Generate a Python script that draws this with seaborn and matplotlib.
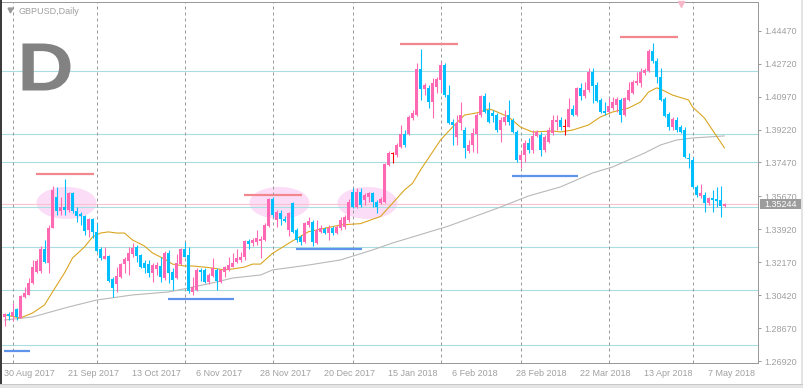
import numpy as np
import matplotlib
matplotlib.use("Agg")
import matplotlib.pyplot as plt
import seaborn as sns
from matplotlib.patches import Ellipse, Rectangle, PathPatch
from matplotlib.lines import Line2D
from matplotlib.textpath import TextPath
from matplotlib.font_manager import FontProperties
from matplotlib.transforms import Affine2D, blended_transform_factory

# ---------------- data ----------------
opens = [
    1.2926, 1.2942, 1.2931, 1.2968, 1.2921, 1.3032, 1.3043, 1.3106, 1.3165, 1.3170,
    1.3287, 1.3213, 1.3399, 1.3563, 1.3489, 1.3510, 1.3494, 1.3585, 1.3489, 1.3473,
    1.3462, 1.3388, 1.3447, 1.3378, 1.3287, 1.3234, 1.3250, 1.3128, 1.3101, 1.3138,
    1.3207, 1.3223, 1.3261, 1.3298, 1.3255, 1.3213, 1.3207, 1.3160, 1.3181, 1.3197,
    1.3133, 1.3266, 1.3165, 1.3133, 1.3207, 1.3287, 1.3255, 1.3059, 1.3069, 1.3176,
    1.3176, 1.3112, 1.3144, 1.3176, 1.3112, 1.3165, 1.3176, 1.3191, 1.3218, 1.3229,
    1.3245, 1.3330, 1.3319, 1.3324, 1.3330, 1.3335, 1.3409, 1.3553, 1.3441, 1.3478,
    1.3447, 1.3388, 1.3532, 1.3388, 1.3351, 1.3324, 1.3415, 1.3431, 1.3319, 1.3378,
    1.3394, 1.3372, 1.3399, 1.3372, 1.3399, 1.3404, 1.3441, 1.3590, 1.3510, 1.3590,
    1.3547, 1.3563, 1.3585, 1.3537, 1.3532, 1.3537, 1.3733, 1.3792, 1.3787, 1.3829,
    1.3898, 1.3898, 1.3983, 1.3999, 1.4244, 1.4137, 1.4143, 1.4068, 1.4148, 1.4185,
    1.4265, 1.4105, 1.3962, 1.3882, 1.3957, 1.3919, 1.3808, 1.3840, 1.3898, 1.3999,
    1.4100, 1.4026, 1.4010, 1.3999, 1.3919, 1.3962, 1.3999, 1.3973, 1.3909, 1.3760,
    1.3787, 1.3850, 1.3813, 1.3888, 1.3893, 1.3813, 1.3856, 1.3904, 1.3962, 1.3973,
    1.3935, 1.3935, 1.4031, 1.3999, 1.4143, 1.4100, 1.4132, 1.4228, 1.4158, 1.4079,
    1.4020, 1.4015, 1.4036, 1.4052, 1.4079, 1.3999, 1.4079, 1.4116, 1.4169, 1.4169,
    1.4222, 1.4233, 1.4339, 1.4286, 1.4201, 1.4084, 1.4004, 1.3935, 1.3973, 1.3935,
    1.3919, 1.3771, 1.3760, 1.3617, 1.3569, 1.3574, 1.3532, 1.3558, 1.3553, 1.3547, 1.3516]
highs = [
    1.2947, 1.2952, 1.3000, 1.2974, 1.3043, 1.3085, 1.3133, 1.3229, 1.3234, 1.3303,
    1.3335, 1.3415, 1.3622, 1.3617, 1.3563, 1.3659, 1.3590, 1.3590, 1.3510, 1.3484,
    1.3468, 1.3452, 1.3452, 1.3425, 1.3298, 1.3298, 1.3255, 1.3138, 1.3191, 1.3213,
    1.3245, 1.3298, 1.3319, 1.3309, 1.3261, 1.3229, 1.3229, 1.3213, 1.3218, 1.3245,
    1.3277, 1.3282, 1.3186, 1.3261, 1.3293, 1.3324, 1.3298, 1.3138, 1.3186, 1.3186,
    1.3186, 1.3160, 1.3239, 1.3186, 1.3181, 1.3197, 1.3245, 1.3266, 1.3287, 1.3271,
    1.3335, 1.3340, 1.3346, 1.3388, 1.3356, 1.3425, 1.3558, 1.3563, 1.3494, 1.3494,
    1.3462, 1.3484, 1.3537, 1.3399, 1.3362, 1.3431, 1.3457, 1.3441, 1.3441, 1.3415,
    1.3404, 1.3415, 1.3409, 1.3415, 1.3457, 1.3468, 1.3553, 1.3611, 1.3611, 1.3611,
    1.3585, 1.3590, 1.3590, 1.3547, 1.3563, 1.3744, 1.3808, 1.3802, 1.3850, 1.3946,
    1.3919, 1.3999, 1.4026, 1.4275, 1.4350, 1.4169, 1.4158, 1.4196, 1.4201, 1.4281,
    1.4275, 1.4158, 1.3978, 1.3999, 1.4068, 1.3935, 1.3866, 1.3930, 1.4010, 1.4105,
    1.4116, 1.4068, 1.4026, 1.4010, 1.3989, 1.4026, 1.4079, 1.3983, 1.3919, 1.3802,
    1.3866, 1.3877, 1.3919, 1.3919, 1.3909, 1.3893, 1.3935, 1.3999, 1.3999, 1.3989,
    1.3978, 1.4089, 1.4052, 1.4148, 1.4169, 1.4174, 1.4249, 1.4249, 1.4174, 1.4089,
    1.4068, 1.4089, 1.4095, 1.4095, 1.4089, 1.4095, 1.4174, 1.4185, 1.4228, 1.4249,
    1.4249, 1.4350, 1.4382, 1.4302, 1.4249, 1.4095, 1.4015, 1.3989, 1.3989, 1.3946,
    1.3935, 1.3797, 1.3776, 1.3627, 1.3633, 1.3590, 1.3563, 1.3601, 1.3617, 1.3622, 1.3532]
lows = [
    1.2878, 1.2910, 1.2905, 1.2910, 1.2921, 1.3027, 1.3043, 1.3101, 1.3160, 1.3160,
    1.3213, 1.3160, 1.3399, 1.3468, 1.3468, 1.3468, 1.3484, 1.3478, 1.3431, 1.3415,
    1.3362, 1.3351, 1.3346, 1.3271, 1.3229, 1.3234, 1.3112, 1.3032, 1.3059, 1.3133,
    1.3160, 1.3149, 1.3245, 1.3218, 1.3186, 1.3160, 1.3138, 1.3112, 1.3149, 1.3112,
    1.3122, 1.3106, 1.3069, 1.3128, 1.3202, 1.3245, 1.3053, 1.3043, 1.3064, 1.3117,
    1.3106, 1.3101, 1.3138, 1.3069, 1.3106, 1.3138, 1.3170, 1.3191, 1.3213, 1.3218,
    1.3229, 1.3287, 1.3303, 1.3309, 1.3239, 1.3330, 1.3404, 1.3457, 1.3404, 1.3415,
    1.3431, 1.3356, 1.3372, 1.3324, 1.3309, 1.3319, 1.3404, 1.3303, 1.3314, 1.3372,
    1.3367, 1.3335, 1.3362, 1.3367, 1.3388, 1.3394, 1.3431, 1.3505, 1.3505, 1.3510,
    1.3521, 1.3537, 1.3510, 1.3478, 1.3526, 1.3532, 1.3728, 1.3744, 1.3776, 1.3824,
    1.3829, 1.3893, 1.3973, 1.3994, 1.4079, 1.4105, 1.4036, 1.3983, 1.4116, 1.4121,
    1.4095, 1.3951, 1.3840, 1.3840, 1.3919, 1.3771, 1.3797, 1.3802, 1.3797, 1.3989,
    1.4010, 1.3957, 1.3962, 1.3909, 1.3856, 1.3946, 1.3946, 1.3904, 1.3749, 1.3718,
    1.3749, 1.3797, 1.3797, 1.3882, 1.3781, 1.3802, 1.3850, 1.3893, 1.3919, 1.3919,
    1.3893, 1.3935, 1.3994, 1.3994, 1.4079, 1.4089, 1.4121, 1.4063, 1.4068, 1.4010,
    1.3999, 1.4010, 1.4026, 1.4015, 1.3962, 1.3994, 1.4074, 1.4111, 1.4158, 1.4148,
    1.4212, 1.4228, 1.4275, 1.4169, 1.4074, 1.3989, 1.3919, 1.3919, 1.3909, 1.3904,
    1.3771, 1.3718, 1.3611, 1.3563, 1.3558, 1.3484, 1.3521, 1.3484, 1.3510, 1.3457, 1.3510]
closes = [
    1.2942, 1.2931, 1.2952, 1.2926, 1.3037, 1.3053, 1.3106, 1.3191, 1.3223, 1.3287,
    1.3218, 1.3399, 1.3601, 1.3489, 1.3510, 1.3494, 1.3585, 1.3489, 1.3462, 1.3462,
    1.3383, 1.3447, 1.3378, 1.3277, 1.3239, 1.3250, 1.3117, 1.3080, 1.3144, 1.3207,
    1.3234, 1.3266, 1.3293, 1.3250, 1.3191, 1.3186, 1.3160, 1.3202, 1.3202, 1.3138,
    1.3266, 1.3160, 1.3122, 1.3213, 1.3287, 1.3245, 1.3064, 1.3085, 1.3176, 1.3165,
    1.3112, 1.3149, 1.3186, 1.3117, 1.3176, 1.3191, 1.3202, 1.3213, 1.3239, 1.3245,
    1.3330, 1.3314, 1.3335, 1.3346, 1.3340, 1.3415, 1.3553, 1.3468, 1.3484, 1.3447,
    1.3436, 1.3478, 1.3378, 1.3335, 1.3324, 1.3425, 1.3436, 1.3324, 1.3388, 1.3399,
    1.3372, 1.3399, 1.3372, 1.3404, 1.3441, 1.3457, 1.3537, 1.3510, 1.3590, 1.3521,
    1.3574, 1.3585, 1.3537, 1.3510, 1.3553, 1.3739, 1.3797, 1.3792, 1.3840, 1.3898,
    1.3840, 1.3989, 1.4010, 1.4244, 1.4137, 1.4158, 1.4068, 1.4169, 1.4190, 1.4265,
    1.4105, 1.3957, 1.3946, 1.3957, 1.3999, 1.3824, 1.3840, 1.3904, 1.3999, 1.4100,
    1.4015, 1.3962, 1.3994, 1.3919, 1.3973, 1.3989, 1.3962, 1.3909, 1.3760, 1.3787,
    1.3850, 1.3813, 1.3888, 1.3909, 1.3813, 1.3882, 1.3919, 1.3973, 1.3973, 1.3935,
    1.3935, 1.4031, 1.3999, 1.4143, 1.4100, 1.4132, 1.4228, 1.4153, 1.4074, 1.4015,
    1.4010, 1.4047, 1.4068, 1.4084, 1.3999, 1.4089, 1.4132, 1.4174, 1.4180, 1.4228,
    1.4238, 1.4339, 1.4286, 1.4201, 1.4079, 1.3994, 1.3935, 1.3978, 1.3919, 1.3909,
    1.3776, 1.3765, 1.3617, 1.3574, 1.3585, 1.3532, 1.3558, 1.3547, 1.3542, 1.3516, 1.35244]

# moving averages (read at sample bars)
ma_fast_bar = [0, 4, 7, 10, 12, 15, 17, 20, 22, 24, 26, 28, 30, 32, 35, 37, 40, 42, 45, 47,
               50, 52, 55, 57, 60, 62, 64, 67, 72, 76, 80, 84, 89, 94, 97, 100, 102, 104, 109,
               112, 115, 118, 121, 122, 126, 129, 132, 137, 139, 142, 146, 149, 152, 156, 159,
               161, 163, 164, 167, 171, 172, 175, 177, 180]
ma_fast = [1.2937, 1.2921, 1.2947, 1.2990, 1.3059, 1.3160, 1.3239, 1.3298, 1.3351, 1.3372,
           1.3378, 1.3372, 1.3372, 1.3335, 1.3303, 1.3266, 1.3234, 1.3207, 1.3197, 1.3197,
           1.3191, 1.3186, 1.3176, 1.3181, 1.3191, 1.3207, 1.3207, 1.3264, 1.3330, 1.3379,
           1.3397, 1.3415, 1.3422, 1.3460, 1.3530, 1.3601, 1.3636, 1.3707, 1.3866,
           1.3935, 1.3999, 1.4010, 1.4031, 1.4026, 1.3989, 1.3935, 1.3909, 1.3914, 1.3909,
           1.3919, 1.3946, 1.3989, 1.4015, 1.4036, 1.4068, 1.4121, 1.4143, 1.4137, 1.4105,
           1.4079, 1.4042, 1.3983, 1.3919, 1.3824]
ma_slow_bar = [0, 7, 16, 23, 32, 41, 46, 53, 57, 64, 67, 76, 84, 92, 97, 102, 111, 124, 131,
               139, 147, 152, 156, 160, 164, 168, 172, 180]
ma_slow = [1.2910, 1.2926, 1.2979, 1.3016, 1.3043, 1.3059, 1.3080, 1.3112, 1.3133, 1.3149,
           1.3176, 1.3202, 1.3229, 1.3282, 1.3319, 1.3351, 1.3409, 1.3510, 1.3569, 1.3617,
           1.3691, 1.3723, 1.3760, 1.3797, 1.3840, 1.3866, 1.3877, 1.3888]

doji_bars = [97, 140]
date_labels = ["30 Aug 2017", "21 Sep 2017", "13 Oct 2017", "6 Nov 2017", "28 Nov 2017",
               "20 Dec 2017", "15 Jan 2018", "6 Feb 2018", "28 Feb 2018", "22 Mar 2018",
               "13 Apr 2018", "7 May 2018"]
date_label_bars = [0, 16, 32, 48, 64, 80, 96, 112, 128, 144, 160, 176]
month_start_bars = [2, 23, 45, 67, 87, 109, 129, 151, 172]
price_labels = ["1.26920", "1.28670", "1.30420", "1.32170", "1.33920", "1.35670",
                "1.37470", "1.39220", "1.40970", "1.42720", "1.44470"]
level_lines = [1.4233, 1.3898, 1.3749, 1.3510, 1.3298, 1.3069, 1.2777]
last_price = 1.35244
resistance = [(7.75, 22.25, 1.3686), (59.75, 74.25, 1.3574), (98.75, 113.25, 1.4374),
              (153.75, 168.25, 1.4411)]
support = [(-0.25, 6.25, 1.2745), (40.75, 57.25, 1.3022), (72.75, 89.25, 1.3287),
           (126.75, 143.25, 1.3675)]
highlight_bars = [15.5, 68.75, 90.75]
highlight_price = 1.3532

assert len(opens) == len(highs) == len(lows) == len(closes) == 181
assert len(ma_fast) == len(ma_fast_bar) and len(ma_slow) == len(ma_slow_bar)

# ---------------- style ----------------
sns.set_style("white")
plt.rcParams['font.family'] = ['Liberation Sans', 'DejaVu Sans']

W, H = 804, 388
PX = 0.72
BULL = "#FF69B4"
BEAR = "#00BFFF"
DOJI = "#FF0000"
GRAY = "#9a9a9a"
TXT = "#a0a0a0"

fig = plt.figure(figsize=(W / 100, H / 100), dpi=100)
fig.patch.set_facecolor("white")
ax = fig.add_axes([2 / W, 25 / H, 756 / W, 361 / H])
ax.set_facecolor("white")
ax.set_xlim(-0.625, 188.375)
ax.set_ylim(1.26815, 1.45995)

# highlight ellipses
for cx in highlight_bars:
    ax.add_patch(Ellipse((cx, highlight_price), width=15, height=0.0170,
                         facecolor="#FCDDF7", edgecolor="none", zorder=0.8))

# level lines
for v in level_lines:
    ax.axhline(v, color="#A9DDE0", lw=1.1 * PX, zorder=1.2)
ax.axhline(last_price, color="#F7C3CE", lw=1.1 * PX, zorder=1.25)

# period separators
for b in month_start_bars:
    ax.axvline(b, color=GRAY, lw=PX, ls=(0, (3, 3)), zorder=1.3)

# moving averages
sns.lineplot(x=ma_slow_bar, y=ma_slow, ax=ax, color="#B8B8B8", lw=1.1 * PX, zorder=2)
sns.lineplot(x=ma_fast_bar, y=ma_fast, ax=ax, color="#DAA520", lw=1.1 * PX, zorder=2.1)

# candles
o = np.array(opens); h = np.array(highs); l = np.array(lows); c = np.array(closes)
bars = np.arange(len(c))
cols = np.where(c >= o, BULL, BEAR).astype(object)
for d in doji_bars:
    cols[d] = DOJI
ax.vlines(bars, l, h, colors=list(cols), lw=1.1 * PX, zorder=3)
body_h = np.maximum(np.abs(c - o), 0.00055)
ax.bar(bars, body_h, bottom=np.minimum(o, c), width=0.75, color=list(cols),
       linewidth=0, zorder=3.1)

# support / resistance segments
for x0, x1, v in resistance:
    ax.hlines(v, x0, x1, color="#F2888E", lw=2.2 * PX, zorder=4)
for x0, x1, v in support:
    ax.hlines(v, x0, x1, color="#5F93EC", lw=2.2 * PX, zorder=4)

# axes styling
for s in ["left"]:
    ax.spines[s].set_visible(False)
for s in ["right", "bottom", "top"]:
    ax.spines[s].set_color(GRAY)
    ax.spines[s].set_linewidth(PX)
ax.yaxis.tick_right()
ax.set_yticks([float(t) for t in price_labels])
ax.set_yticklabels(price_labels)
ax.tick_params(axis="y", length=3 * PX, width=PX, color=GRAY, pad=3 * PX,
               labelsize=6.5, labelcolor=TXT)
ax.set_xticks(date_label_bars)
ax.set_xticklabels(date_labels, ha="left")
ax.tick_params(axis="x", length=4 * PX, width=PX, color=GRAY, pad=1.5 * PX,
               labelsize=6.5, labelcolor=TXT)
ax.set_xlabel(""); ax.set_ylabel("")
ax.grid(False)

# last price tag
bt = blended_transform_factory(fig.transFigure, ax.transData)
ax.add_patch(Rectangle((760 / W, last_price - 0.0027), 41 / W, 0.0054, transform=bt,
                       facecolor="#9c9c9c", edgecolor="none", clip_on=False, zorder=5))
ax.text(781 / W, last_price, f"{last_price:.5f}", transform=bt, ha="center",
        va="center", fontsize=6.5, color="white", zorder=6, clip_on=False)

# header texts
fig.text(19 / W, 1 - 11 / H, "GBPUSD,Daily", fontsize=6.5, color=TXT, va="center", ha="left")
fig.add_artist(Line2D([10 / W], [1 - 10 / H], marker="v", markersize=3.5, color="#999999",
                      transform=fig.transFigure, lw=0))
fig.add_artist(Line2D([681 / W], [1 - 4 / H], marker="v", markersize=4, color="#F5B8CB",
                      transform=fig.transFigure, lw=0))

# big "D" timeframe mark
tp = TextPath((0, 0), "D", size=100, prop=FontProperties(family="Liberation Sans", weight="bold"))
bb = tp.get_extents()
tr = (Affine2D().translate(-bb.x0, -bb.y0).scale(48 / bb.width, 47 / bb.height)
      .translate(22.5, H - 90.5).scale(1 / W, 1 / H) + fig.transFigure)
fig.add_artist(PathPatch(tp, transform=tr, facecolor="#828282", edgecolor="none"))

# window frame
fig.add_artist(Rectangle((0, 0), 1.6 / W, 1, transform=fig.transFigure,
                         facecolor="#3c3c3c", edgecolor="none"))
fig.add_artist(Rectangle((0, 0), 1, 4 / H, transform=fig.transFigure,
                         facecolor="#e4e4e4", edgecolor="none"))
fig.add_artist(Line2D([0, 1], [4.5 / H, 4.5 / H], color="#c8c8c8", lw=PX,
                      transform=fig.transFigure))
fig.add_artist(Rectangle((801 / W, 0), 3 / W, 1, transform=fig.transFigure,
                         facecolor="#e4e4e4", edgecolor="none"))

fig.savefig("out.png", dpi=100, facecolor="white")
